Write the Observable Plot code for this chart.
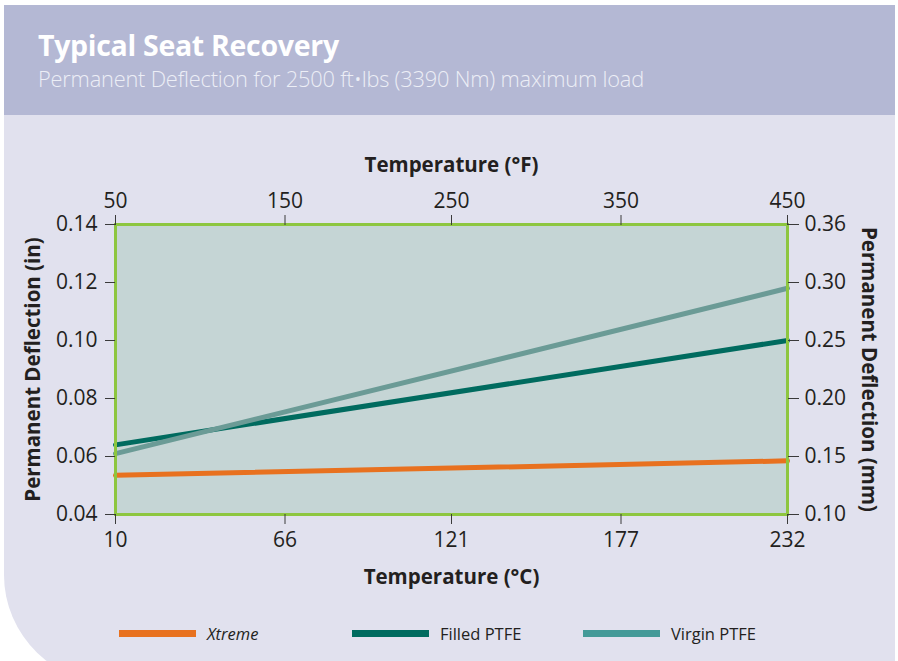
<!DOCTYPE html>
<html>
<head>
<meta charset="utf-8">
<script src="https://cdn.jsdelivr.net/npm/d3@7"></script>
<script src="https://cdn.jsdelivr.net/npm/@observablehq/plot@0.6"></script>
<style>
  html, body { margin: 0; padding: 0; background: #ffffff; width: 898px; height: 661px; overflow: hidden; }
  #panel { position: absolute; left: 4px; top: 5px; width: 891px; height: 680px; background: #e1e1ee;
           border-bottom-left-radius: 113px 110px; }
  #header { position: absolute; left: 4px; top: 5px; width: 891px; height: 110px; background: #b4b8d4; }
  #title { position: absolute; left: 38px; top: 26px; font-family: "Open Sans", sans-serif; font-weight: 700;
           font-size: 28.5px; color: #ffffff; letter-spacing: -0.3px; white-space: nowrap; }
  #subtitle { position: absolute; left: 38px; top: 64px; font-family: "Open Sans", sans-serif; font-weight: 300;
              font-size: 21.8px; color: #eceef6; white-space: nowrap; letter-spacing: -0.2px; }
  #chart { position: absolute; left: 0; top: 115px; }
  #legend { position: absolute; left: 0; top: 620px; width: 898px; height: 26px; font-family: "Open Sans", sans-serif;
            font-size: 16.5px; color: #231f20; }
  .item { position: absolute; top: 0; height: 26px; display: flex; align-items: center; white-space: nowrap; }
  .sw { width: 77px; height: 7px; margin-right: 11px; }
</style>
</head>
<body>
<div id="panel"></div>
<div id="header"></div>
<div id="title">Typical Seat Recovery</div>
<div id="subtitle">Permanent Deflection for 2500 ft•lbs (3390 Nm) maximum load</div>
<div id="chart"></div>
<div id="legend"></div>
<script>
// ---- data ----
const tempC = [10, 232];
const xtreme = [0.0535, 0.0585];
const filledPTFE = [0.064, 0.100];
const virginPTFE = [0.061, 0.118];
const seriesNames = ["Xtreme", "Filled PTFE", "Virgin PTFE"];
const lineColors = ["#e8711f", "#006b5f", "#6b9b96"];
const legendColors = ["#e8711f", "#006b5f", "#449a98"];
const celsiusTicks = [10, 66, 121, 177, 232];
const fahrenheitLabels = ["50", "150", "250", "350", "450"];
const inchTicks = [0.04, 0.06, 0.08, 0.10, 0.12, 0.14];
const mmLabels = ["0.10", "0.15", "0.20", "0.25", "0.30", "0.36"];

const seriesValues = [xtreme, filledPTFE, virginPTFE];
const rows = [];
seriesNames.forEach((name, s) => {
  tempC.forEach((t, i) => rows.push({series: name, t, v: seriesValues[s][i]}));
});

const tickColor = "#3a3a3a";
const textColor = "#231f20";
const tickFont = 21;
const titleFont = 20.5;

const chart = Plot.plot({
  width: 898,
  height: 490,
  marginTop: 109,
  marginBottom: 91,
  marginLeft: 115,
  marginRight: 111,
  style: { fontFamily: "'Open Sans', sans-serif", fontSize: tickFont + "px", color: textColor, background: "transparent", overflow: "visible" },
  x: { domain: [10, 232] },
  y: { domain: [0.04, 0.14] },
  color: { domain: seriesNames, range: lineColors },
  marks: [
    Plot.frame({ fill: "#c5d5d5", stroke: "none" }),
    Plot.line(rows, { x: "t", y: "v", z: "series", stroke: "series", strokeWidth: 5 }),
    Plot.frame({ stroke: "#8dc63f", strokeWidth: 3, fill: "none" }),
    Plot.axisX({ anchor: "bottom", ticks: celsiusTicks, tickFormat: d => String(d), tickSize: 10, tickPadding: 8,
                 stroke: tickColor, fill: textColor, label: null, fontSize: tickFont }),
    Plot.axisX({ anchor: "top", ticks: celsiusTicks, tickFormat: (d, i) => fahrenheitLabels[i], tickSize: 10, tickPadding: 7,
                 stroke: tickColor, fill: textColor, label: null, fontSize: tickFont }),
    Plot.axisY({ anchor: "left", ticks: inchTicks, tickFormat: d3.format(".2f"), tickSize: 10, tickPadding: 8,
                 stroke: tickColor, fill: textColor, label: null, fontSize: tickFont }),
    Plot.axisY({ anchor: "right", ticks: inchTicks, tickFormat: (d, i) => mmLabels[i], tickSize: 11, tickPadding: 6,
                 stroke: tickColor, fill: textColor, label: null, fontSize: tickFont }),
    Plot.text(["Temperature (°F)"], { frameAnchor: "top", dy: -59, text: d => d, fontWeight: "bold", fontSize: titleFont, fill: textColor, lineAnchor: "middle", textAnchor: "middle" }),
    Plot.text(["Temperature (°C)"], { frameAnchor: "bottom", dy: 63, text: d => d, fontWeight: "bold", fontSize: titleFont, fill: textColor, lineAnchor: "middle", textAnchor: "middle" }),
    Plot.text(["Permanent Deflection (in)"], { frameAnchor: "left", dx: -82, rotate: -90, text: d => d, fontWeight: "bold", fontSize: titleFont, fill: textColor, lineAnchor: "middle", textAnchor: "middle" }),
    Plot.text(["Permanent Deflection (mm)"], { frameAnchor: "right", dx: 81, rotate: 90, text: d => d, fontWeight: "bold", fontSize: titleFont, fill: textColor, lineAnchor: "middle", textAnchor: "middle" })
  ]
});
document.getElementById("chart").appendChild(chart);

// ---- legend ----
const legendX = [119, 352, 583];
const legend = document.getElementById("legend");
seriesNames.forEach((name, i) => {
  const item = document.createElement("div");
  item.className = "item";
  item.style.left = legendX[i] + "px";
  const sw = document.createElement("div");
  sw.className = "sw";
  sw.style.background = legendColors[i];
  const label = document.createElement("span");
  label.textContent = name;
  if (i === 0) label.style.fontStyle = "italic";
  item.appendChild(sw);
  item.appendChild(label);
  legend.appendChild(item);
});
</script>
</body>
</html>
